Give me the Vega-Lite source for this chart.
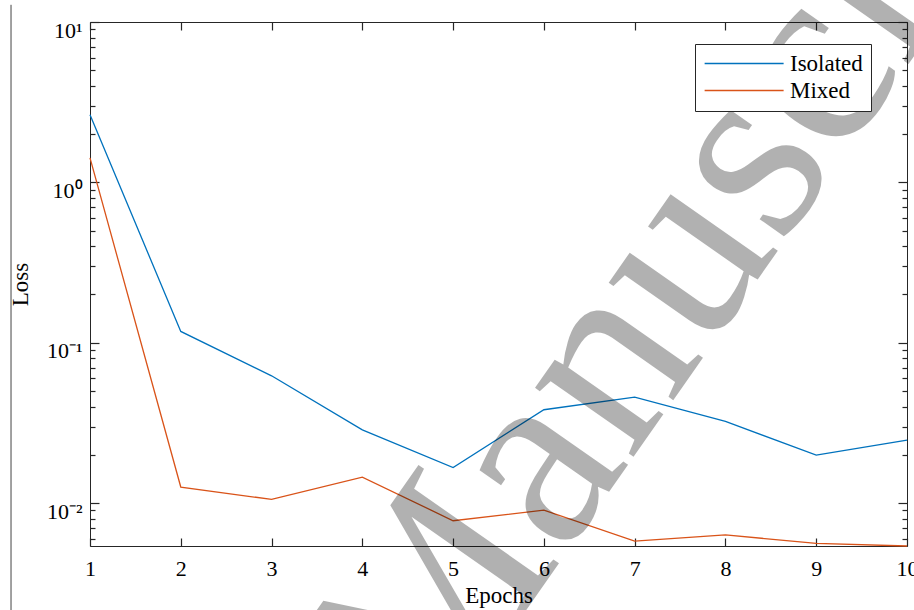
{
  "$schema": "https://vega.github.io/schema/vega-lite/v6.json",
  "width": 817,
  "height": 524,
  "autosize": {"type": "none"},
  "padding": {"left": 90, "top": 22, "right": 7, "bottom": 64},
  "background": "white",
  "config": {
    "view": {"stroke": "#262626", "strokeWidth": 1},
    "font": "Liberation Serif",
    "axis": {
      "labelFont": "Liberation Serif",
      "labelFontSize": 22,
      "labelColor": "#000000",
      "titleFont": "Liberation Serif",
      "titleFontSize": 23,
      "titleFontWeight": "normal",
      "titleColor": "#000000",
      "domain": false,
      "ticks": true,
      "tickColor": "#262626",
      "tickOpacity": 1,
      "tickWidth": 1.2,
      "zindex": 1,
      "grid": false
    }
  },
  "datasets": {
    "loss": [
      {"Epoch": 1, "Loss": 2.64, "Series": "Isolated"},
      {"Epoch": 2, "Loss": 0.1176, "Series": "Isolated"},
      {"Epoch": 3, "Loss": 0.0622, "Series": "Isolated"},
      {"Epoch": 4, "Loss": 0.0286, "Series": "Isolated"},
      {"Epoch": 5, "Loss": 0.01667, "Series": "Isolated"},
      {"Epoch": 6, "Loss": 0.0382, "Series": "Isolated"},
      {"Epoch": 7, "Loss": 0.0458, "Series": "Isolated"},
      {"Epoch": 8, "Loss": 0.0323, "Series": "Isolated"},
      {"Epoch": 9, "Loss": 0.0199, "Series": "Isolated"},
      {"Epoch": 10, "Loss": 0.0247, "Series": "Isolated"},
      {"Epoch": 1, "Loss": 1.42, "Series": "Mixed"},
      {"Epoch": 2, "Loss": 0.01259, "Series": "Mixed"},
      {"Epoch": 3, "Loss": 0.01054, "Series": "Mixed"},
      {"Epoch": 4, "Loss": 0.01453, "Series": "Mixed"},
      {"Epoch": 5, "Loss": 0.00776, "Series": "Mixed"},
      {"Epoch": 6, "Loss": 0.00904, "Series": "Mixed"},
      {"Epoch": 7, "Loss": 0.00579, "Series": "Mixed"},
      {"Epoch": 8, "Loss": 0.00633, "Series": "Mixed"},
      {"Epoch": 9, "Loss": 0.00561, "Series": "Mixed"},
      {"Epoch": 10, "Loss": 0.0054, "Series": "Mixed"}
    ],
    "stamp": [{"word": "Manuscript"}]
  },
  "resolve": {"axis": {"x": "independent", "y": "independent"}},
  "layer": [
    {
      "data": {"name": "loss"},
      "mark": {"type": "line", "strokeWidth": 1.3},
      "encoding": {
        "x": {
          "field": "Epoch",
          "type": "quantitative",
          "scale": {"domain": [1, 10], "nice": false, "zero": false},
          "axis": {
            "orient": "bottom",
            "offset": -8,
            "values": [1, 2, 3, 4, 5, 6, 7, 8, 9, 10],
            "format": "d",
            "ticks": true,
            "tickSize": 8,
            "labelPadding": 12,
            "labelFlush": false,
            "title": "Epochs",
            "titlePadding": 5
          }
        },
        "y": {
          "field": "Loss",
          "type": "quantitative",
          "scale": {"type": "log", "domain": [0.0054, 10], "nice": false},
          "axis": {
            "orient": "left",
            "offset": -9,
            "values": [0.01, 0.1, 1, 10],
            "labelExpr": "datum.value == 10 ? '10¹' : datum.value == 1 ? '10⁰' : datum.value == 0.1 ? '10⁻¹' : '10⁻²'",
            "ticks": true,
            "tickSize": 9,
            "labelPadding": 8,
            "labelOffset": 8,
            "labelFlush": false,
            "labelOverlap": false,
            "title": "Loss",
            "titlePadding": 14
          }
        },
        "color": {
          "field": "Series",
          "type": "nominal",
          "scale": {"domain": ["Isolated", "Mixed"], "range": ["#0072BD", "#D95319"]},
          "legend": {
            "title": null,
            "orient": "none",
            "legendX": 605,
            "legendY": 22,
            "direction": "vertical",
            "fillColor": "white",
            "strokeColor": "#262626",
            "padding": 8,
            "rowPadding": 3,
            "symbolType": "M-1,0H7",
            "symbolSize": 390,
            "symbolStrokeWidth": 1.5,
            "labelFont": "Liberation Serif",
            "labelFontSize": 23,
            "labelColor": "#000000",
            "labelOffset": 64,
            "labelExpr": "datum.label + '\u00a0\u00a0\u00a0\u00a0'"
          }
        }
      }
    },
    {
      "data": {"name": "loss"},
      "mark": {"type": "line", "opacity": 0},
      "encoding": {
        "x": {
          "field": "Epoch",
          "type": "quantitative",
          "axis": {
            "orient": "top",
            "offset": -8,
            "values": [1, 2, 3, 4, 5, 6, 7, 8, 9, 10],
            "labels": false,
            "ticks": true,
            "tickSize": 8,
            "title": null
          }
        },
        "y": {
          "field": "Loss",
          "type": "quantitative",
          "axis": {
            "orient": "left",
            "offset": -5,
            "values": [0.006, 0.007, 0.008, 0.009, 0.02, 0.03, 0.04, 0.05, 0.06, 0.07, 0.08, 0.09, 0.2, 0.3, 0.4, 0.5, 0.6, 0.7, 0.8, 0.9, 2, 3, 4, 5, 6, 7, 8, 9],
            "labels": false,
            "ticks": true,
            "tickSize": 5,
            "title": null
          }
        },
        "detail": {"field": "Series"}
      }
    },
    {
      "data": {"name": "loss"},
      "mark": {"type": "line", "opacity": 0},
      "encoding": {
        "x": {"field": "Epoch", "type": "quantitative", "axis": null},
        "y": {
          "field": "Loss",
          "type": "quantitative",
          "axis": {
            "orient": "right",
            "offset": -9,
            "values": [0.01, 0.1, 1, 10],
            "labels": false,
            "ticks": true,
            "tickSize": 9,
            "title": null
          }
        },
        "detail": {"field": "Series"}
      }
    },
    {
      "data": {"name": "loss"},
      "mark": {"type": "line", "opacity": 0},
      "encoding": {
        "x": {"field": "Epoch", "type": "quantitative", "axis": null},
        "y": {
          "field": "Loss",
          "type": "quantitative",
          "axis": {
            "orient": "right",
            "offset": -5,
            "values": [0.006, 0.007, 0.008, 0.009, 0.02, 0.03, 0.04, 0.05, 0.06, 0.07, 0.08, 0.09, 0.2, 0.3, 0.4, 0.5, 0.6, 0.7, 0.8, 0.9, 2, 3, 4, 5, 6, 7, 8, 9],
            "labels": false,
            "ticks": true,
            "tickSize": 5,
            "title": null
          }
        },
        "detail": {"field": "Series"}
      }
    },
    {
      "data": {"name": "stamp"},
      "mark": {"type": "rule", "color": "#444444", "strokeWidth": 1},
      "encoding": {
        "x": {"datum": 0.13, "type": "quantitative", "axis": null},
        "y": {"datum": 12.8, "type": "quantitative", "axis": null},
        "y2": {"datum": 0.002}
      }
    },
    {
      "data": {"name": "stamp"},
      "mark": {
        "type": "text",
        "font": "Liberation Serif",
        "fontSize": 262,
        "angle": -55,
        "align": "center",
        "baseline": "middle",
        "fill": "#000000",
        "opacity": 0.3
      },
      "encoding": {
        "x": {"datum": 7.8, "type": "quantitative", "axis": null},
        "y": {"datum": 0.637, "type": "quantitative", "axis": null},
        "text": {"field": "word"}
      }
    }
  ]
}
